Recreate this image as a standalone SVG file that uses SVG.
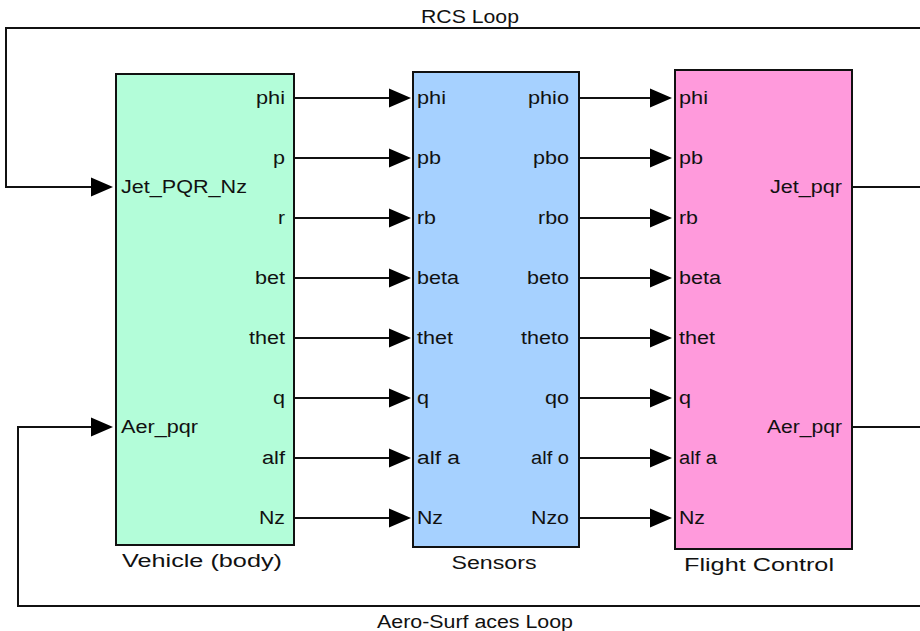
<svg xmlns="http://www.w3.org/2000/svg" width="920" height="631" viewBox="0 0 920 631">
<style>
text{font-family:"Liberation Sans",Arial,sans-serif;font-size:18px;fill:#111}
.blk{stroke:#111;stroke-width:2}
.w{fill:none;stroke:#111;stroke-width:2}
.e{text-anchor:end}
.m{text-anchor:middle}
</style>
<defs>
<polygon id="ah" points="-22,-9.5 0,0 -22,9.5" fill="#000"/>
</defs>
<rect width="920" height="631" fill="#fff"/>
<g id="connectors">
<path class="w" d="M852,187 H923 V28 H6 V187 H95"/>
<use href="#ah" x="113" y="187"/>
<path class="w" d="M852,427 H923 V606 H18 V427 H95"/>
<use href="#ah" x="113" y="427"/>
<path class="w" d="M294,98 H395 M294,158 H395 M294,218 H395 M294,278 H395 M294,338 H395 M294,398 H395 M294,458 H395 M294,518 H395"/>
<use href="#ah" x="411" y="98"/><use href="#ah" x="411" y="158"/><use href="#ah" x="411" y="218"/><use href="#ah" x="411" y="278"/>
<use href="#ah" x="411" y="338"/><use href="#ah" x="411" y="398"/><use href="#ah" x="411" y="458"/><use href="#ah" x="411" y="518"/>
<path class="w" d="M579,98 H655 M579,158 H655 M579,218 H655 M579,278 H655 M579,338 H655 M579,398 H655 M579,458 H655 M579,518 H655"/>
<use href="#ah" x="672" y="98"/><use href="#ah" x="672" y="158"/><use href="#ah" x="672" y="218"/><use href="#ah" x="672" y="278"/>
<use href="#ah" x="672" y="338"/><use href="#ah" x="672" y="398"/><use href="#ah" x="672" y="458"/><use href="#ah" x="672" y="518"/>
<text class="m" x="470" y="23" textLength="98" lengthAdjust="spacingAndGlyphs">RCS Loop</text>
<text class="m" x="475" y="628" textLength="196" lengthAdjust="spacingAndGlyphs">Aero-Surf aces Loop</text>
</g>
<g id="vehicle">
<rect class="blk" x="116" y="74" width="178" height="471" fill="#b3fdd9"/>
<text x="121" y="193" textLength="126" lengthAdjust="spacingAndGlyphs">Jet_PQR_Nz</text>
<text x="121" y="433" textLength="77" lengthAdjust="spacingAndGlyphs">Aer_pqr</text>
<text class="e" x="285" y="104" textLength="29" lengthAdjust="spacingAndGlyphs">phi</text>
<text class="e" x="285" y="164" textLength="12" lengthAdjust="spacingAndGlyphs">p</text>
<text class="e" x="285" y="224" textLength="7" lengthAdjust="spacingAndGlyphs">r</text>
<text class="e" x="285" y="284" textLength="30" lengthAdjust="spacingAndGlyphs">bet</text>
<text class="e" x="285" y="344" textLength="36" lengthAdjust="spacingAndGlyphs">thet</text>
<text class="e" x="285" y="404" textLength="12" lengthAdjust="spacingAndGlyphs">q</text>
<text class="e" x="285" y="464" textLength="23" lengthAdjust="spacingAndGlyphs">alf</text>
<text class="e" x="285" y="524" textLength="26" lengthAdjust="spacingAndGlyphs">Nz</text>
<text class="m" x="202" y="567" textLength="160" lengthAdjust="spacingAndGlyphs">Vehicle (body)</text>
</g>
<g id="sensors">
<rect class="blk" x="413" y="72" width="166" height="475" fill="#a6d1ff"/>
<text x="417" y="104" textLength="29" lengthAdjust="spacingAndGlyphs">phi</text>
<text x="417" y="164" textLength="24" lengthAdjust="spacingAndGlyphs">pb</text>
<text x="417" y="224" textLength="19" lengthAdjust="spacingAndGlyphs">rb</text>
<text x="417" y="284" textLength="42" lengthAdjust="spacingAndGlyphs">beta</text>
<text x="417" y="344" textLength="36" lengthAdjust="spacingAndGlyphs">thet</text>
<text x="417" y="404" textLength="12" lengthAdjust="spacingAndGlyphs">q</text>
<text x="417" y="464" textLength="43" lengthAdjust="spacingAndGlyphs">alf a</text>
<text x="417" y="524" textLength="26" lengthAdjust="spacingAndGlyphs">Nz</text>
<text class="e" x="569" y="104" textLength="41" lengthAdjust="spacingAndGlyphs">phio</text>
<text class="e" x="569" y="164" textLength="36" lengthAdjust="spacingAndGlyphs">pbo</text>
<text class="e" x="569" y="224" textLength="31" lengthAdjust="spacingAndGlyphs">rbo</text>
<text class="e" x="569" y="284" textLength="42" lengthAdjust="spacingAndGlyphs">beto</text>
<text class="e" x="569" y="344" textLength="48" lengthAdjust="spacingAndGlyphs">theto</text>
<text class="e" x="569" y="404" textLength="24" lengthAdjust="spacingAndGlyphs">qo</text>
<text class="e" x="569" y="464" textLength="38" lengthAdjust="spacingAndGlyphs">alf o</text>
<text class="e" x="569" y="524" textLength="38" lengthAdjust="spacingAndGlyphs">Nzo</text>
<text class="m" x="494" y="569" textLength="85" lengthAdjust="spacingAndGlyphs">Sensors</text>
</g>
<g id="flight-control">
<rect class="blk" x="675" y="70" width="177" height="479" fill="#ff9adc"/>
<text x="679" y="104" textLength="29" lengthAdjust="spacingAndGlyphs">phi</text>
<text x="679" y="164" textLength="24" lengthAdjust="spacingAndGlyphs">pb</text>
<text x="679" y="224" textLength="19" lengthAdjust="spacingAndGlyphs">rb</text>
<text x="679" y="284" textLength="42" lengthAdjust="spacingAndGlyphs">beta</text>
<text x="679" y="344" textLength="36" lengthAdjust="spacingAndGlyphs">thet</text>
<text x="679" y="404" textLength="12" lengthAdjust="spacingAndGlyphs">q</text>
<text x="679" y="464" textLength="38" lengthAdjust="spacingAndGlyphs">alf a</text>
<text x="679" y="524" textLength="26" lengthAdjust="spacingAndGlyphs">Nz</text>
<text class="e" x="842" y="193" textLength="72" lengthAdjust="spacingAndGlyphs">Jet_pqr</text>
<text class="e" x="842" y="433" textLength="75" lengthAdjust="spacingAndGlyphs">Aer_pqr</text>
<text class="m" x="759" y="571" textLength="150" lengthAdjust="spacingAndGlyphs">Flight Control</text>
</g>
</svg>
